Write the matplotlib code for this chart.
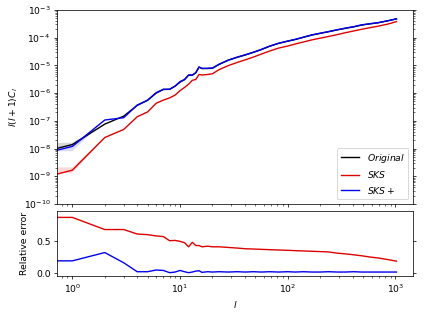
import numpy as np
import matplotlib
matplotlib.use("Agg")
import matplotlib.pyplot as plt

# multipole grid
ell = np.array([0, 1, 2, 3, 4, 5, 6, 7, 8, 9, 10, 11, 12, 13, 14, 15, 16, 18, 20,
                23, 28, 34, 40, 48, 57, 68, 82, 100, 117, 140, 167, 200, 238, 290,
                340, 410, 484, 580, 692, 850, 1023])

# l(l+1)C_l
original = np.array([0, 1.4e-8, 7.6e-8, 1.48e-7, 3.6e-7, 5.5e-7, 1.0e-6, 1.35e-6, 1.37e-6,
                     1.78e-6, 2.5e-6, 3.05e-6, 4.45e-6, 4.4e-6, 5.4e-6, 8.6e-6, 7.7e-6,
                     7.7e-6, 7.9e-6, 1.08e-5, 1.53e-5, 1.96e-5, 2.35e-5, 2.95e-5, 3.72e-5,
                     4.9e-5, 6.2e-5, 7.45e-5, 8.55e-5, 1.03e-4, 1.24e-4, 1.43e-4, 1.63e-4,
                     1.92e-4, 2.16e-4, 2.46e-4, 2.85e-4, 3.15e-4, 3.45e-4, 4.05e-4, 4.75e-4])
sks = np.array([0, 1.66e-9, 2.5e-8, 4.9e-8, 1.4e-7, 2.1e-7, 4.3e-7, 5.6e-7, 6.7e-7, 8.5e-7,
                1.23e-6, 1.6e-6, 2.1e-6, 2.9e-6, 3.1e-6, 4.7e-6, 4.5e-6, 4.7e-6, 5.0e-6,
                7.0e-6, 9.8e-6, 1.28e-5, 1.57e-5, 2.0e-5, 2.57e-5, 3.3e-5, 4.2e-5, 5.0e-5,
                5.9e-5, 7.0e-5, 8.3e-5, 9.6e-5, 1.1e-4, 1.3e-4, 1.5e-4, 1.75e-4, 2.0e-4,
                2.3e-4, 2.6e-4, 3.1e-4, 3.8e-4])
sks_plus = np.array([0, 1.2e-8, 1.07e-7, 1.3e-7, 3.7e-7, 5.6e-7, 1.04e-6, 1.38e-6, 1.38e-6,
                     1.8e-6, 2.6e-6, 3.1e-6, 4.5e-6, 4.5e-6, 5.5e-6, 8.8e-6, 7.8e-6, 7.9e-6,
                     8.0e-6, 1.1e-5, 1.55e-5, 2.0e-5, 2.4e-5, 3.0e-5, 3.8e-5, 5.0e-5, 6.3e-5,
                     7.6e-5, 8.7e-5, 1.05e-4, 1.26e-4, 1.45e-4, 1.66e-4, 1.95e-4, 2.2e-4,
                     2.5e-4, 2.9e-4, 3.2e-4, 3.5e-4, 4.1e-4, 4.8e-4])

# relative errors (bottom panel)
err_sks = np.array([0.87, 0.87, 0.68, 0.68, 0.61, 0.60, 0.58, 0.57, 0.505, 0.51, 0.495,
                    0.475, 0.41, 0.48, 0.43, 0.43, 0.41, 0.42, 0.41, 0.41, 0.40, 0.39, 0.38,
                    0.375, 0.37, 0.365, 0.36, 0.355, 0.35, 0.345, 0.34, 0.335, 0.33, 0.31,
                    0.30, 0.285, 0.27, 0.25, 0.235, 0.21, 0.185])
err_sks_plus = np.array([0.19, 0.19, 0.32, 0.16, 0.02, 0.02, 0.047, 0.04, 0.005, 0.015,
                         0.04, 0.02, 0.005, 0.015, 0.03, 0.035, 0.01, 0.02, 0.015, 0.02,
                         0.015, 0.02, 0.015, 0.02, 0.015, 0.02, 0.015, 0.02, 0.015, 0.02,
                         0.015, 0.015, 0.02, 0.015, 0.015, 0.02, 0.015, 0.015, 0.015, 0.015,
                         0.015])

# scatter bands at the lowest multipoles
band_ell = np.array([0, 1, 2])
orig_lo = np.array([1.12e-8, 1.12e-8, 7.6e-8])
orig_hi = np.array([1.62e-8, 1.62e-8, 7.6e-8])
sks_lo = np.array([1.3e-9, 1.3e-9, 2.5e-8])
sks_hi = np.array([2.1e-9, 2.1e-9, 2.5e-8])
plus_lo = np.array([8.0e-9, 8.0e-9, 1.07e-7])
plus_hi = np.array([1.2e-8, 1.2e-8, 1.07e-7])

labels = [r'$Original$', r'$SKS$', r'$SKS+$']

fig = plt.figure(figsize=(6.4, 4.755), dpi=66.25)
ax1 = fig.add_axes([0.1344, 0.3524, 0.8396, 0.6159])
ax2 = fig.add_axes([0.1344, 0.1238, 0.8396, 0.2063], sharex=ax1)

ax1.fill_between(band_ell, orig_lo, orig_hi, color='k', alpha=0.15, lw=0)
ax1.fill_between(band_ell, sks_lo, sks_hi, color='r', alpha=0.15, lw=0)
ax1.fill_between(band_ell, plus_lo, plus_hi, color='b', alpha=0.15, lw=0)
ax1.plot(ell, original, color='k', lw=1.5, label=labels[0])
ax1.plot(ell, sks, color='#dd0000', lw=1.5, label=labels[1])
ax1.plot(ell, sks_plus, color='#0000ee', lw=1.5, label=labels[2])

ax1.set_xscale('log')
ax1.set_yscale('log')
ax1.set_xlim(0.72, 1455)
ax1.set_ylim(1e-10, 1e-3)
ax1.set_ylabel(r'$l(l+1)C_l$')
ax1.yaxis.set_ticks_position('both')
ax1.tick_params(labelbottom=False)
ax1.legend(loc='lower right')

ax2.plot(ell, err_sks, color='#dd0000', lw=1.5)
ax2.plot(ell, err_sks_plus, color='#0000ee', lw=1.5)
ax2.set_ylim(-0.047, 0.97)
ax2.set_yticks([0.0, 0.5])
ax2.set_ylabel('Relative error', labelpad=7)
ax2.set_xlabel(r'$l$')
ax2.yaxis.set_ticks_position('both')

fig.savefig('out.png', dpi=66.25)
